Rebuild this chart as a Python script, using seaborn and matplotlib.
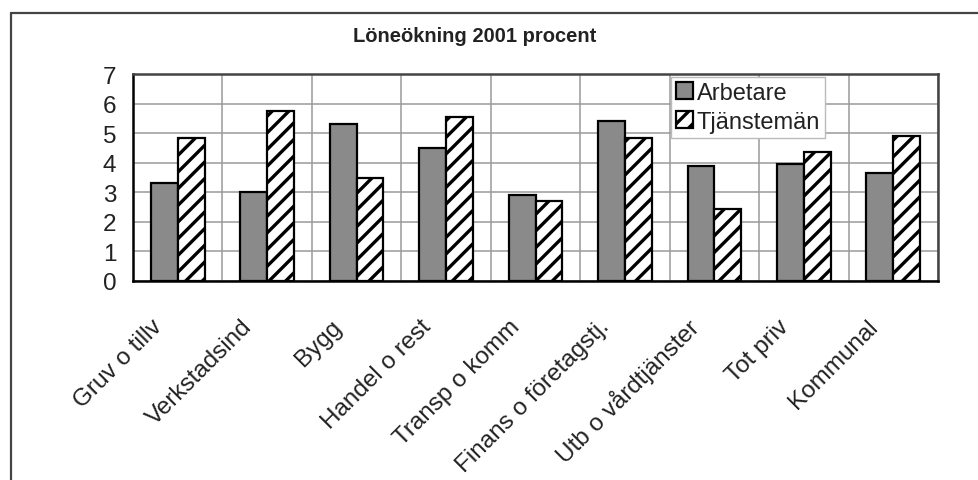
import matplotlib
matplotlib.use("Agg")
import matplotlib.pyplot as plt
from matplotlib.lines import Line2D
import numpy as np
import pandas as pd
import seaborn as sns

# Löneökning 2001 per sektor (procent)
sektorer = ["Gruv o tillv", "Verkstadsind", "Bygg", "Handel o rest", "Transp o komm",
            "Finans o företagstj.", "Utb o vårdtjänster", "Tot priv", "Kommunal"]
arbetare = [3.3, 3.0, 5.3, 4.5, 2.9, 5.4, 3.9, 3.95, 3.65]
tjansteman = [4.85, 5.75, 3.5, 5.55, 2.7, 4.85, 2.45, 4.35, 4.9]
grupper = ["Arbetare", "Tjänstemän"]
yticks = [0, 1, 2, 3, 4, 5, 6, 7]
titel = "Löneökning 2001 procent"

df = pd.DataFrame({
    "Sektor": sektorer * 2,
    "Ökning": arbetare + tjansteman,
    "Grupp": [grupper[0]] * len(sektorer) + [grupper[1]] * len(sektorer),
})

sns.set_style("white")
plt.rcParams["font.family"] = ["Liberation Sans", "DejaVu Sans"]
plt.rcParams["hatch.linewidth"] = 2.4

fig = plt.figure(figsize=(9.79, 4.81), dpi=100)
ax = fig.add_axes([133 / 979, 1 - 282 / 481, (938 - 133) / 979, (282 - 75) / 481])

sns.barplot(data=df, x="Sektor", y="Ökning", hue="Grupp", order=sektorer,
            hue_order=grupper, palette=["#8a8a8a", "white"], edgecolor="black",
            linewidth=1.6, width=0.6, gap=0, dodge=True, saturation=1,
            ax=ax, zorder=3)

for bar in ax.containers[1]:
    bar.set_hatch("//")

ax.set_xlim(-0.5, len(sektorer) - 0.5)
ax.set_ylim(0, 7)
ax.set_yticks(yticks)
ax.set_xlabel("")
ax.set_ylabel("")

# category labels hang just left of each category centre,
# tick marks sit on the category boundaries
ax.set_xticks(np.arange(len(sektorer)) - 0.21)
ax.set_xticklabels(sektorer, rotation=45, ha="right", va="center",
                   rotation_mode="anchor", fontsize=17.5, color="#222222")
ax.set_xticks(np.arange(len(sektorer) + 1) - 0.5, minor=True)
ax.tick_params(axis="x", which="major", length=0, pad=30)
ax.tick_params(axis="x", which="minor", length=7, width=1.4, color="black",
               direction="out")
ax.tick_params(axis="y", length=7, width=1.4, color="black", direction="out",
               labelsize=17.5, labelcolor="#222222", pad=5)

ax.grid(False)
ax.yaxis.grid(True, color="#9a9a9a", linewidth=1.1, zorder=0)
ax.xaxis.grid(True, which="minor", color="#9a9a9a", linewidth=1.1, zorder=0)
ax.set_axisbelow(True)

for side in ["left", "bottom"]:
    ax.spines[side].set_color("black")
    ax.spines[side].set_linewidth(1.8)
for side in ["top", "right"]:
    ax.spines[side].set_color("#444444")
    ax.spines[side].set_linewidth(1.8)

handles = [ax.containers[0][0], ax.containers[1][0]]
leg = ax.legend(handles, grupper, loc="upper left",
                bbox_to_anchor=((671 - 133) / 805, (282 - 78) / 207),
                fontsize=17, frameon=True, fancybox=False, framealpha=1,
                edgecolor="#bbbbbb", handlelength=0.75, handleheight=0.75,
                handletextpad=0.15, borderpad=0.2, labelspacing=0.3,
                borderaxespad=0)
leg.get_frame().set_linewidth(1.0)
for t in leg.get_texts():
    t.set_color("#222222")

fig.text(475 / 979, 1 - 37 / 481, titel, ha="center", va="center",
         fontsize=14.5, fontweight="bold", color="#222222")

# outer chart frame (top and left edges)
fig.add_artist(Line2D([11 / 979, 1.0], [1 - 14 / 481, 1 - 14 / 481],
                      transform=fig.transFigure, color="#444444", linewidth=1.6))
fig.add_artist(Line2D([11 / 979, 11 / 979], [1 - 14 / 481, 0.0],
                      transform=fig.transFigure, color="#444444", linewidth=1.6))

fig.savefig("out.png", dpi=100)
